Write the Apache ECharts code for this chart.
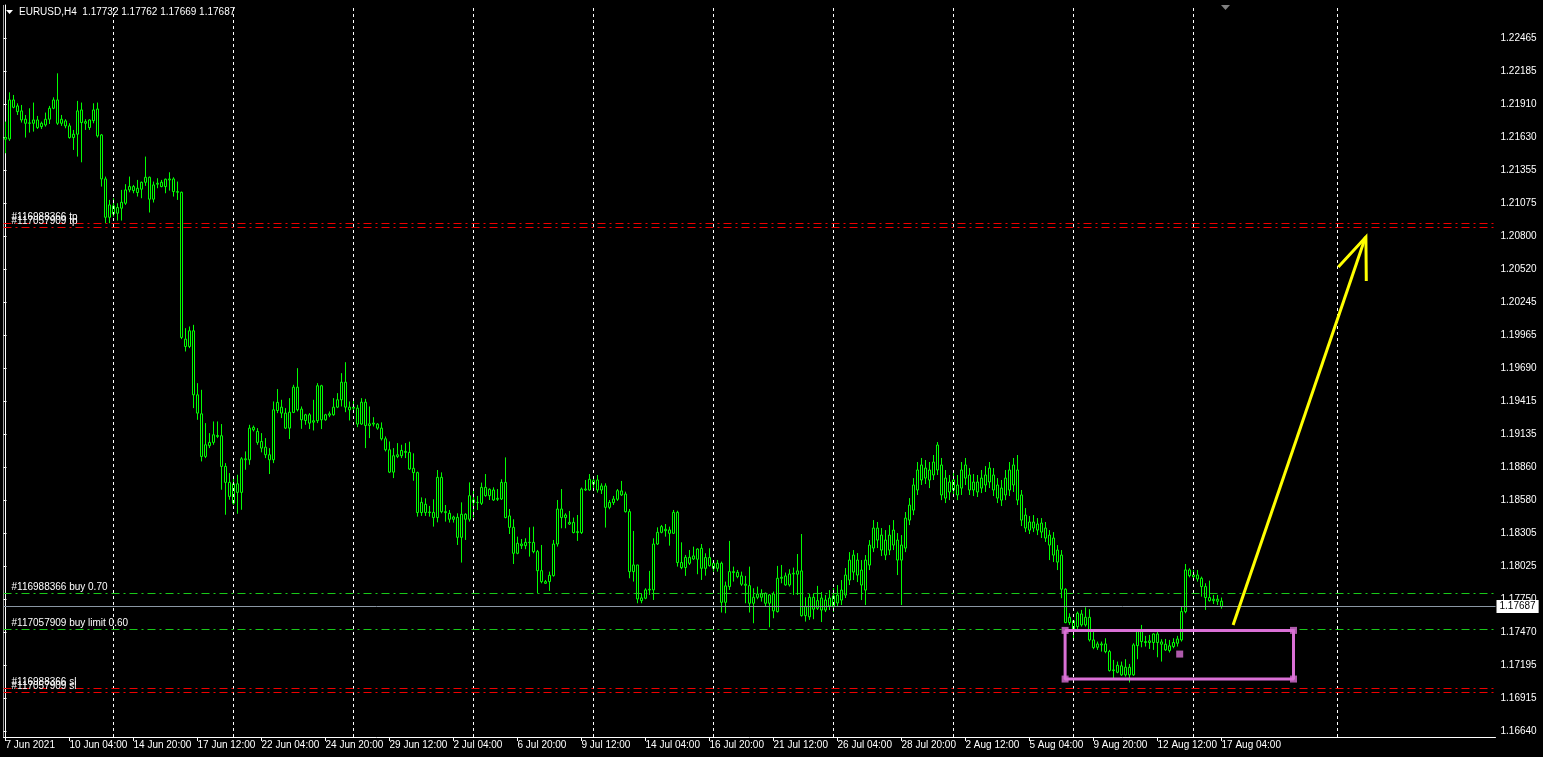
<!DOCTYPE html>
<html>
<head>
<meta charset="utf-8">
<title>EURUSD,H4</title>
<script src="https://cdn.jsdelivr.net/npm/echarts@6/dist/echarts.min.js"></script>
<style>
html,body{margin:0;padding:0;background:#000;}
#c{width:1543px;height:757px;}
</style>
</head>
<body>
<div id="c"></div>
<script>
// ---------- DATA ----------
const symbolTitle = 'EURUSD,H4  1.17732 1.17762 1.17669 1.17687';
// H4 bars, [open, high, low, close], first bar = 7 Jun 2021 12:00
const ohlc = [
[1.21628,1.21762,1.21496,1.21614],[1.21616,1.22008,1.21600,1.21944],[1.21944,1.21986,1.21874,1.21882],[1.21894,1.21916,1.21818,1.21846],[1.21852,1.21902,1.21754,1.21776],
[1.21782,1.21818,1.21628,1.21748],[1.21748,1.21874,1.21670,1.21751],[1.21748,1.21922,1.21678,1.21776],[1.21776,1.21810,1.21700,1.21712],[1.21720,1.21762,1.21700,1.21748],
[1.21734,1.21838,1.21720,1.21782],[1.21782,1.21894,1.21742,1.21874],[1.21874,1.21966,1.21866,1.21944],[1.21944,1.22168,1.21734,1.21748],[1.21748,1.21818,1.21726,1.21782],
[1.21768,1.21782,1.21706,1.21726],[1.21726,1.21748,1.21619,1.21628],[1.21628,1.21692,1.21524,1.21656],[1.21656,1.21936,1.21468,1.21852],[1.21860,1.21922,1.21420,1.21754],
[1.21748,1.21782,1.21692,1.21762],[1.21712,1.21782,1.21692,1.21776],[1.21770,1.21916,1.21748,1.21860],[1.21868,1.21922,1.21628,1.21642],[1.21650,1.21658,1.21216,1.21280],
[1.21280,1.21300,1.20908,1.20958],[1.20958,1.21104,1.20908,1.21062],[1.21054,1.21118,1.20964,1.20986],[1.20992,1.21076,1.20930,1.21040],[1.21034,1.21188,1.20930,1.21084],
[1.21076,1.21236,1.21062,1.21188],[1.21188,1.21300,1.21168,1.21216],[1.21216,1.21230,1.21160,1.21182],[1.21202,1.21272,1.21132,1.21166],[1.21194,1.21258,1.21118,1.21252],
[1.21252,1.21468,1.21222,1.21294],[1.21294,1.21300,1.20998,1.21110],[1.21110,1.21258,1.21082,1.21230],[1.21236,1.21286,1.21202,1.21244],[1.21216,1.21272,1.21210,1.21252],
[1.21278,1.21283,1.21160,1.21216],[1.21272,1.21336,1.21182,1.21280],[1.21280,1.21294,1.21132,1.21174],[1.21174,1.21258,1.21104,1.21168],[1.21168,1.21174,1.19934,1.19948],
[1.19934,1.20026,1.19830,1.19872],[1.19872,1.20040,1.19858,1.20004],[1.20004,1.20054,1.19354,1.19466],[1.19466,1.19564,1.19256,1.19312],[1.19306,1.19508,1.18906,1.18948],
[1.18948,1.19228,1.18934,1.19046],[1.19038,1.19144,1.19018,1.19066],[1.19066,1.19242,1.19046,1.19130],[1.19124,1.19242,1.19102,1.19116],[1.19122,1.19220,1.18668,1.18864],
[1.18864,1.18892,1.18458,1.18730],[1.18730,1.18808,1.18584,1.18612],[1.18556,1.18766,1.18542,1.18718],[1.18718,1.18794,1.18466,1.18646],[1.18646,1.18942,1.18500,1.18928],
[1.18928,1.18990,1.18836,1.18920],[1.18920,1.19214,1.18878,1.19186],[1.19192,1.19208,1.19158,1.19172],[1.19158,1.19186,1.19046,1.19066],[1.19074,1.19144,1.18982,1.19018],
[1.19026,1.19102,1.18934,1.18962],[1.18962,1.19018,1.18800,1.18920],[1.18920,1.19410,1.18892,1.19340],[1.19334,1.19514,1.19312,1.19402],[1.19362,1.19424,1.19270,1.19312],
[1.19312,1.19354,1.19178,1.19186],[1.19186,1.19438,1.19094,1.19320],[1.19318,1.19550,1.19312,1.19530],[1.19530,1.19690,1.19326,1.19340],[1.19346,1.19368,1.19180,1.19256],
[1.19250,1.19306,1.19214,1.19298],[1.19298,1.19312,1.19178,1.19228],[1.19236,1.19424,1.19166,1.19248],[1.19248,1.19564,1.19228,1.19542],[1.19542,1.19550,1.19178,1.19256],
[1.19256,1.19306,1.19248,1.19298],[1.19295,1.19326,1.19278,1.19306],[1.19298,1.19438,1.19290,1.19362],[1.19362,1.19480,1.19354,1.19424],[1.19424,1.19648,1.19368,1.19572],
[1.19572,1.19740,1.19320,1.19362],[1.19362,1.19410,1.19250,1.19340],[1.19354,1.19418,1.19312,1.19362],[1.19354,1.19382,1.19194,1.19220],[1.19220,1.19438,1.19214,1.19404],
[1.19404,1.19432,1.19018,1.19208],[1.19208,1.19368,1.19102,1.19222],[1.19220,1.19278,1.19200,1.19228],[1.19220,1.19228,1.19172,1.19186],[1.19186,1.19234,1.19082,1.19096],
[1.19096,1.19116,1.18990,1.19004],[1.19004,1.19074,1.18808,1.18816],[1.18816,1.19018,1.18766,1.18954],[1.18948,1.19060,1.18934,1.18962],[1.18954,1.19046,1.18934,1.18998],
[1.18990,1.19060,1.18934,1.18982],[1.18982,1.19072,1.18834,1.18842],[1.18848,1.18974,1.18744,1.18812],[1.18812,1.18820,1.18442,1.18476],[1.18476,1.18604,1.18448,1.18562],
[1.18546,1.18596,1.18448,1.18476],[1.18476,1.18532,1.18442,1.18481],[1.18478,1.18588,1.18358,1.18434],[1.18434,1.18834,1.18394,1.18772],[1.18772,1.18814,1.18470,1.18484],
[1.18484,1.18540,1.18400,1.18476],[1.18470,1.18498,1.18392,1.18420],[1.18420,1.18450,1.18392,1.18439],[1.18436,1.18470,1.18204,1.18268],[1.18268,1.18562,1.18056,1.18462],
[1.18462,1.18470,1.18246,1.18420],[1.18420,1.18730,1.18400,1.18618],[1.18582,1.18666,1.18436,1.18562],[1.18562,1.18616,1.18498,1.18560],[1.18554,1.18728,1.18540,1.18688],
[1.18688,1.18800,1.18610,1.18618],[1.18618,1.18680,1.18582,1.18672],[1.18666,1.18688,1.18574,1.18582],[1.18588,1.18674,1.18574,1.18596],[1.18590,1.18756,1.18582,1.18730],
[1.18730,1.18940,1.18428,1.18434],[1.18448,1.18506,1.18296,1.18352],[1.18352,1.18420,1.18044,1.18134],[1.18134,1.18274,1.18126,1.18218],[1.18212,1.18254,1.18170,1.18198],
[1.18198,1.18260,1.18168,1.18226],[1.18226,1.18352,1.18106,1.18224],[1.18226,1.18358,1.18134,1.18148],[1.18148,1.18162,1.17798,1.17988],[1.17988,1.18204,1.17882,1.17896],
[1.17896,1.17910,1.17876,1.17882],[1.17896,1.17980,1.17818,1.17949],[1.17946,1.18246,1.17938,1.18212],[1.18212,1.18582,1.18190,1.18506],[1.18506,1.18674,1.18344,1.18434],
[1.18434,1.18470,1.18344,1.18456],[1.18394,1.18490,1.18372,1.18380],[1.18394,1.18434,1.18302,1.18308],[1.18308,1.18456,1.18238,1.18316],[1.18308,1.18686,1.18296,1.18674],
[1.18674,1.18750,1.18658,1.18666],[1.18666,1.18800,1.18660,1.18756],[1.18744,1.18772,1.18666,1.18716],[1.18750,1.18792,1.18644,1.18666],[1.18666,1.18722,1.18632,1.18700],
[1.18700,1.18722,1.18350,1.18520],[1.18520,1.18582,1.18504,1.18562],[1.18560,1.18616,1.18540,1.18590],[1.18588,1.18674,1.18574,1.18660],[1.18658,1.18742,1.18616,1.18624],
[1.18632,1.18652,1.18476,1.18484],[1.18484,1.18506,1.17924,1.17980],[1.17980,1.18322,1.17896,1.18036],[1.18036,1.18036,1.17714,1.17750],[1.17759,1.17798,1.17714,1.17736],
[1.17756,1.17840,1.17748,1.17826],[1.17826,1.17986,1.17784,1.17832],[1.17826,1.18260,1.17742,1.18212],[1.18212,1.18352,1.18204,1.18310],[1.18310,1.18372,1.18302,1.18358],
[1.18336,1.18380,1.18274,1.18324],[1.18330,1.18358,1.18198,1.18302],[1.18302,1.18498,1.18296,1.18478],[1.18478,1.18492,1.18022,1.18056],[1.18056,1.18226,1.18000,1.18014],
[1.18014,1.18120,1.17944,1.18100],[1.18100,1.18162,1.18036,1.18050],[1.18086,1.18190,1.18078,1.18112],[1.18084,1.18176,1.17958,1.18170],[1.18176,1.18212,1.17910,1.18008],
[1.18008,1.18134,1.17946,1.18098],[1.18098,1.18176,1.18022,1.18030],[1.18050,1.18072,1.17980,1.18008],[1.18008,1.18078,1.17980,1.18050],[1.18050,1.18064,1.17636,1.17722],
[1.17722,1.17896,1.17630,1.17860],[1.17854,1.18238,1.17826,1.17980],[1.17980,1.18022,1.17896,1.17972],[1.17974,1.17994,1.17924,1.17938],[1.17944,1.17980,1.17860,1.17874],
[1.17874,1.17944,1.17714,1.17865],[1.17862,1.18022,1.17636,1.17714],[1.17714,1.17840,1.17546,1.17764],[1.17764,1.17854,1.17748,1.17792],[1.17792,1.17832,1.17728,1.17764],
[1.17798,1.17804,1.17686,1.17714],[1.17714,1.17792,1.17512,1.17784],[1.17792,1.17812,1.17588,1.17650],[1.17644,1.18028,1.17636,1.17924],[1.17924,1.18036,1.17882,1.17932],
[1.17868,1.17972,1.17862,1.17944],[1.17868,1.18000,1.17854,1.17960],[1.17960,1.18014,1.17784,1.17966],[1.17958,1.18128,1.17784,1.17986],[1.17986,1.18296,1.17602,1.17610],
[1.17610,1.17764,1.17560,1.17686],[1.17600,1.17792,1.17574,1.17764],[1.17764,1.17798,1.17580,1.17664],[1.17672,1.17860,1.17658,1.17736],[1.17758,1.17808,1.17556,1.17657],
[1.17657,1.17783,1.17640,1.17741],[1.17691,1.17825,1.17657,1.17758],[1.17775,1.17842,1.17640,1.17691],[1.17716,1.17867,1.17691,1.17783],[1.17741,1.17909,1.17699,1.17825],
[1.17783,1.18010,1.17758,1.17951],[1.17909,1.18144,1.17867,1.18077],[1.17976,1.18161,1.17909,1.18119],[1.18077,1.18136,1.17892,1.17951],[1.17993,1.18077,1.17741,1.17867],
[1.17825,1.18119,1.17699,1.18077],[1.18035,1.18245,1.17993,1.18203],[1.18178,1.18413,1.18144,1.18346],[1.18346,1.18397,1.18178,1.18245],[1.18287,1.18346,1.18111,1.18161],
[1.18245,1.18329,1.18077,1.18119],[1.18161,1.18371,1.18119,1.18287],[1.18203,1.18413,1.18161,1.18329],[1.18245,1.18304,1.17951,1.18077],[1.18077,1.18287,1.17699,1.18203],
[1.18178,1.18481,1.18144,1.18430],[1.18413,1.18598,1.18371,1.18539],[1.18497,1.18766,1.18455,1.18708],[1.18666,1.18901,1.18624,1.18834],[1.18750,1.18935,1.18708,1.18876],
[1.18850,1.18918,1.18716,1.18766],[1.18750,1.18901,1.18682,1.18834],[1.18792,1.18960,1.18750,1.18901],[1.18834,1.19069,1.18792,1.19044],[1.18876,1.18935,1.18581,1.18624],
[1.18598,1.18834,1.18556,1.18766],[1.18733,1.18792,1.18581,1.18649],[1.18666,1.18817,1.18607,1.18750],[1.18708,1.18792,1.18581,1.18624],[1.18682,1.18901,1.18624,1.18834],
[1.18766,1.18935,1.18708,1.18876],[1.18792,1.18850,1.18624,1.18666],[1.18666,1.18800,1.18615,1.18733],[1.18733,1.18792,1.18607,1.18649],[1.18682,1.18834,1.18640,1.18766],
[1.18708,1.18867,1.18649,1.18792],[1.18733,1.18901,1.18682,1.18850],[1.18792,1.18850,1.18615,1.18666],[1.18708,1.18766,1.18556,1.18598],[1.18581,1.18750,1.18531,1.18682],
[1.18624,1.18834,1.18581,1.18766],[1.18666,1.18901,1.18615,1.18834],[1.18708,1.18935,1.18649,1.18876],[1.18834,1.18960,1.18539,1.18581],[1.18624,1.18666,1.18363,1.18413],
[1.18455,1.18514,1.18312,1.18346],[1.18329,1.18447,1.18296,1.18397],[1.18397,1.18455,1.18312,1.18346],[1.18380,1.18430,1.18287,1.18329],[1.18312,1.18430,1.18262,1.18388],
[1.18346,1.18397,1.18229,1.18262],[1.18287,1.18329,1.18077,1.18203],[1.18262,1.18312,1.18060,1.18119],[1.18161,1.18203,1.17993,1.18060],[1.18119,1.18161,1.17756,1.17832],
[1.17832,1.17840,1.17546,1.17552],[1.17552,1.17630,1.17532,1.17596],[1.17566,1.17574,1.17406,1.17490],[1.17518,1.17644,1.17496,1.17630],[1.17624,1.17658,1.17518,1.17532],
[1.17532,1.17680,1.17518,1.17596],[1.17596,1.17664,1.17392,1.17406],[1.17406,1.17476,1.17328,1.17342],[1.17344,1.17392,1.17322,1.17372],[1.17372,1.17392,1.17308,1.17364],
[1.17372,1.17420,1.17294,1.17308],[1.17308,1.17322,1.17140,1.17148],[1.17148,1.17238,1.17084,1.17154],[1.17134,1.17224,1.17126,1.17193],[1.17188,1.17224,1.17104,1.17112],
[1.17112,1.17244,1.17098,1.17176],[1.17176,1.17204,1.17048,1.17112],[1.17112,1.17378,1.17104,1.17364],[1.17358,1.17484,1.17244,1.17476],[1.17476,1.17532,1.17344,1.17392],
[1.17392,1.17440,1.17350,1.17384],[1.17384,1.17448,1.17330,1.17398],[1.17384,1.17462,1.17322,1.17456],[1.17456,1.17476,1.17260,1.17384],[1.17389,1.17412,1.17224,1.17370],
[1.17370,1.17414,1.17314,1.17322],[1.17316,1.17406,1.17300,1.17356],[1.17350,1.17420,1.17336,1.17384],[1.17378,1.17440,1.17350,1.17414],[1.17406,1.17686,1.17392,1.17644],
[1.17644,1.18044,1.17630,1.17994],[1.17994,1.18008,1.17932,1.17946],[1.17938,1.17994,1.17910,1.17952],[1.17952,1.17994,1.17896,1.17918],[1.17924,1.17938,1.17770,1.17854],
[1.17854,1.17882,1.17658,1.17762],[1.17762,1.17904,1.17728,1.17736],[1.17736,1.17784,1.17708,1.17748],[1.17748,1.17784,1.17700,1.17731],[1.17732,1.17762,1.17669,1.17687]
];
const totalSlots = 373;            // bars + empty future space on the time axis
const xTickLabels = ['7 Jun 2021','10 Jun 04:00','14 Jun 20:00','17 Jun 12:00','22 Jun 04:00','24 Jun 20:00',
  '29 Jun 12:00','2 Jul 04:00','6 Jul 20:00','9 Jul 12:00','14 Jul 04:00','16 Jul 20:00','21 Jul 12:00',
  '26 Jul 04:00','28 Jul 20:00','2 Aug 12:00','5 Aug 04:00','9 Aug 20:00','12 Aug 12:00','17 Aug 04:00'];
const xTickEvery = 16;
const priceTicks = ['1.16640','1.16915','1.17195','1.17470','1.17750','1.18025','1.18305','1.18580','1.18860',
  '1.19135','1.19415','1.19690','1.19965','1.20245','1.20520','1.20800','1.21075','1.21355','1.21630',
  '1.21910','1.22185','1.22465'];
const weekLineBars = [27,57,87,117,147,177,207,237,267,297,333];
const orderNames  = ['#116988366 tp','#117057909 tp','#116988366 buy 0.70','#117057909 buy limit 0.60','#116988366 sl','#117057909 sl'];
const orderPrices = [1.20908,1.20874,1.17798,1.17498,1.16999,1.16966];
const orderKinds  = ['stop','stop','entry','entry','stop','stop'];
const lastPrice = 1.17687;
const zoneBars = [264.9, 322.0];
const zonePrices = [1.17486, 1.17077];
const zoneMid = [293.55, 1.17287];
const arrowShaft = [[306.9,1.17531],[340.0,1.20792]];
const arrowHead = [[333.2,1.20540],[340.1,1.20792],[340.2,1.20422]];

// ---------- BUILD ----------
const MON = ['Jan','Feb','Mar','Apr','May','Jun','Jul','Aug','Sep','Oct','Nov','Dec'];
function barTimes(n){
  const out=[]; let t=Date.UTC(2021,5,7,12);
  while(out.length<n){
    const d=new Date(t), wd=d.getUTCDay();
    if(wd!==0 && wd!==6){
      const hh=String(d.getUTCHours()).padStart(2,'0');
      out.push(d.getUTCDate()+' '+MON[d.getUTCMonth()]+' '+hh+':00');
    }
    t+=4*3600*1000;
  }
  return out;
}
const times = barTimes(totalSlots);
const lastIdx = ohlc.length-1;
const isTick = (i)=> i%xTickEvery===0 && i<=lastIdx;

const FONT = '"Liberation Sans",Arial,sans-serif';
const FS = 10;
const GREEN='#00ff00', ORDER_GREEN='#19c819', RED='#ee0000', VIOLET='#da70d6', YELLOW='#ffff00';

const orderLines = orderNames.map((n,i)=>({
  yAxis: orderPrices[i],
  lineStyle:{color: orderKinds[i]==='entry'?ORDER_GREEN:RED, type:[8,4,2,4], width:1},
  label:{show:true, formatter:n, position:'insideStartTop', distance:[8,1], color:'#fff', fontSize:FS, fontFamily:FONT}
}));
const weekLines = weekLineBars.map(b=>({xAxis:b, lineStyle:{color:'#fff', type:[3,3], width:1}, label:{show:false}}));
const priceLine = {yAxis:lastPrice, lineStyle:{color:'#8a96a3', type:'solid', width:1},
  label:{show:true, position:'end', formatter:lastPrice.toFixed(5), distance:1, color:'#000',
    backgroundColor:'#fff', padding:[2,3,1,3], fontSize:FS, fontFamily:FONT}};

const zonePoly = [[zoneBars[0],zonePrices[0]],[zoneBars[1],zonePrices[0]],[zoneBars[1],zonePrices[1]],[zoneBars[0],zonePrices[1]],[zoneBars[0],zonePrices[0]]];
const zoneHandles = [[zoneBars[0],zonePrices[0]],[zoneBars[1],zonePrices[0]],[zoneBars[1],zonePrices[1]],[zoneBars[0],zonePrices[1]],zoneMid];

const chart = echarts.init(document.getElementById('c'));
chart.setOption({
  backgroundColor:'#000',
  animation:false,
  textStyle:{fontFamily:FONT},
  grid:[
    {left:3.5, top:5, width:1492, height:732},
    {left:3.5, top:38, width:1492, height:693}
  ],
  xAxis:[
    {type:'category', gridIndex:0, data:times, boundaryGap:true,
     axisLine:{show:true, lineStyle:{color:'#fff', width:1}},
     axisTick:{show:true, alignWithLabel:true, interval:(i)=>isTick(i), length:4, lineStyle:{color:'#fff'}},
     axisLabel:{show:true, interval:(i)=>isTick(i), formatter:(v,i)=>xTickLabels[i/xTickEvery]||'',
       color:'#fff', fontSize:FS, fontFamily:FONT, align:'left', margin:3},
     splitLine:{show:false}},
    {type:'value', gridIndex:0, min:-0.5, max:totalSlots-0.5, show:false},
    {type:'value', gridIndex:1, min:0, max:1, show:false}
  ],
  yAxis:[
    {type:'value', gridIndex:0, min:1.16590, max:1.22742, position:'right',
     axisLine:{show:true, lineStyle:{color:'#fff'}}, axisTick:{show:false}, axisLabel:{show:false}, splitLine:{show:false}},
    {type:'value', gridIndex:1, min:0, max:priceTicks.length-1, interval:1, position:'right',
     axisLine:{show:false}, axisTick:{show:true, length:3, lineStyle:{color:'#fff'}},
     axisLabel:{color:'#fff', fontSize:FS, fontFamily:FONT, margin:5, formatter:(v)=>priceTicks[v]},
     splitLine:{show:false}}
  ],
  series:[
    {type:'candlestick', xAxisIndex:0, yAxisIndex:0, barWidth:2,
     data: ohlc.map(([o,h,l,c])=>[o,c,l,h]),
     itemStyle:{color:'#000', color0:'#000', borderColor:GREEN, borderColor0:GREEN, borderWidth:1},
     markLine:{silent:true, symbol:['none','none'], animation:false, data: weekLines}
    },
    {type:'line', xAxisIndex:1, yAxisIndex:0, data:[[-1,lastPrice]], showSymbol:false, silent:true,
     lineStyle:{width:0}, z:4,
     markLine:{silent:true, precision:6, symbol:['none','none'], animation:false, data: orderLines.concat([priceLine])}},
    {type:'line', xAxisIndex:1, yAxisIndex:0, data:zonePoly, showSymbol:false, silent:true,
     lineStyle:{color:VIOLET, width:3}, z:5},
    {type:'scatter', xAxisIndex:1, yAxisIndex:0, data:zoneHandles, symbol:'rect', symbolSize:7, silent:true,
     itemStyle:{color:VIOLET}, z:6},
    {type:'line', xAxisIndex:1, yAxisIndex:0, data:arrowShaft, showSymbol:false, silent:true,
     lineStyle:{color:YELLOW, width:3}, z:5},
    {type:'line', xAxisIndex:1, yAxisIndex:0, data:arrowHead, showSymbol:false, silent:true,
     lineStyle:{color:YELLOW, width:3, join:'miter'}, z:5}
  ],
  graphic:[
    {type:'line', shape:{x1:3.5,y1:5,x2:3.5,y2:737}, style:{stroke:'#a0a0a0', lineWidth:1}, silent:true},
    {type:'polygon', shape:{points:[[6,10],[13,10],[9.5,14]]}, style:{fill:'#fff'}, silent:true},
    {type:'text', left:19, top:7, style:{text:symbolTitle, fill:'#fff', font:FS+'px '+FONT}, silent:true},
    {type:'polygon', shape:{points:[[1221,5],[1230,5],[1225.5,10]]}, style:{fill:'#808080'}, silent:true}
  ]
});
</script>
</body>
</html>
